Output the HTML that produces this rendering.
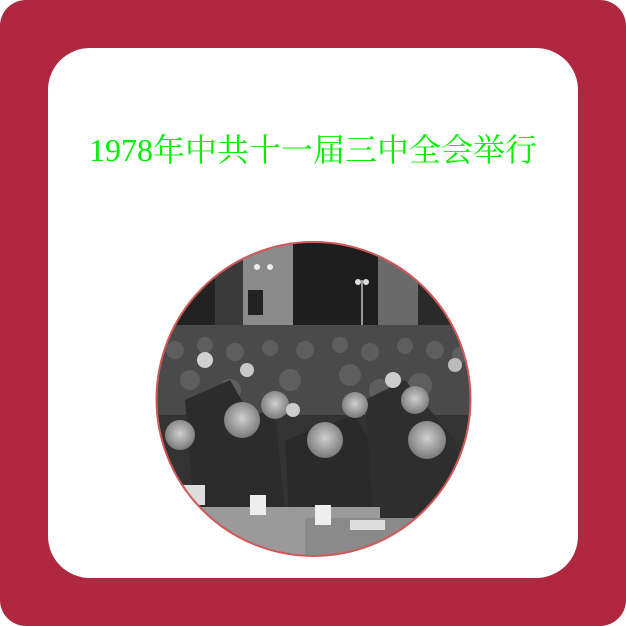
<!DOCTYPE html>
<html><head><meta charset="utf-8">
<style>
html,body{margin:0;padding:0;width:626px;height:626px;overflow:hidden;background:#fff}
#outer{position:absolute;left:0;top:0;width:626px;height:626px;background:#b02840;border-radius:26px}
#inner{position:absolute;left:48px;top:48px;width:530px;height:530px;background:#fff;border-radius:42px}
#title{position:absolute;left:0;top:130px;width:626px;text-align:center;font-family:"Liberation Serif","Noto Serif CJK SC",serif;font-size:32px;letter-spacing:0px;color:#00f000;line-height:40px;white-space:nowrap}
#photo{position:absolute;left:155px;top:240px}
</style></head>
<body>
<div id="outer"></div>
<div id="inner"></div>
<div id="title">1978年中共十一届三中全会举行</div>
<svg id="photo" width="318" height="318" viewBox="0 0 318 318">
<defs>
<clipPath id="c"><circle cx="158.5" cy="159" r="157"/></clipPath>
<radialGradient id="face" cx="50%" cy="45%" r="55%"><stop offset="0" stop-color="#cfcfcf"/><stop offset="1" stop-color="#7a7a7a"/></radialGradient>
</defs>
<g clip-path="url(#c)">
<rect width="318" height="318" fill="#3a3a3a"/>
<rect x="0" y="0" width="60" height="90" fill="#222"/>
<rect x="88" y="0" width="50" height="95" fill="#8a8a8a"/>
<rect x="138" y="0" width="85" height="95" fill="#1e1e1e"/>
<rect x="223" y="0" width="40" height="90" fill="#6a6a6a"/>
<rect x="263" y="0" width="60" height="90" fill="#2a2a2a"/>
<rect x="93" y="50" width="15" height="25" fill="#222"/>
<rect x="206" y="40" width="2" height="60" fill="#999"/>
<circle cx="102" cy="27" r="3" fill="#eee"/><circle cx="115" cy="27" r="3" fill="#eee"/>
<circle cx="203" cy="42" r="3" fill="#ddd"/><circle cx="211" cy="42" r="3" fill="#ddd"/>
<rect x="0" y="85" width="318" height="90" fill="#4a4a4a"/>
<g fill="#5e5e5e">
<circle cx="20" cy="110" r="9"/><circle cx="50" cy="105" r="8"/><circle cx="80" cy="112" r="9"/><circle cx="115" cy="108" r="8"/><circle cx="150" cy="110" r="9"/><circle cx="185" cy="105" r="8"/><circle cx="215" cy="112" r="9"/><circle cx="250" cy="106" r="8"/><circle cx="280" cy="110" r="9"/><circle cx="305" cy="115" r="8"/>
<circle cx="35" cy="140" r="10"/><circle cx="75" cy="150" r="11"/><circle cx="135" cy="140" r="11"/><circle cx="195" cy="135" r="11"/><circle cx="225" cy="150" r="11"/><circle cx="265" cy="145" r="12"/>
</g>
<rect x="0" y="175" width="318" height="143" fill="#333"/>
<path d="M30 160 L75 140 L95 175 L120 170 L130 270 L40 280 Z" fill="#2c2c2c"/>
<path d="M130 200 L200 175 L220 210 L235 290 L135 290 Z" fill="#2a2a2a"/>
<path d="M210 160 L250 140 L300 200 L318 310 L220 300 Z" fill="#2e2e2e"/>
<circle cx="87" cy="180" r="18" fill="url(#face)"/>
<circle cx="170" cy="200" r="18" fill="url(#face)"/>
<circle cx="272" cy="200" r="19" fill="url(#face)"/>
<circle cx="120" cy="165" r="14" fill="url(#face)"/>
<circle cx="260" cy="160" r="14" fill="url(#face)"/>
<circle cx="25" cy="195" r="15" fill="url(#face)"/>
<circle cx="200" cy="165" r="13" fill="url(#face)"/>
<circle cx="50" cy="120" r="8" fill="#d0d0d0"/><circle cx="92" cy="130" r="7" fill="#c8c8c8"/><circle cx="138" cy="170" r="7" fill="#ccc"/><circle cx="238" cy="140" r="8" fill="#ccc"/><circle cx="300" cy="125" r="7" fill="#bbb"/>
<rect x="45" y="267" width="180" height="60" fill="#9a9a9a"/>
<rect x="150" y="278" width="168" height="50" fill="#8a8a8a"/>
<rect x="95" y="255" width="16" height="20" fill="#eee"/>
<rect x="160" y="265" width="16" height="20" fill="#eee"/>
<rect x="25" y="245" width="25" height="20" fill="#ddd"/>
<rect x="195" y="280" width="35" height="10" fill="#ddd"/>
</g>
<circle cx="158.5" cy="159" r="157" fill="none" stroke="#d05858" stroke-width="2"/>
</svg>
</body></html>
